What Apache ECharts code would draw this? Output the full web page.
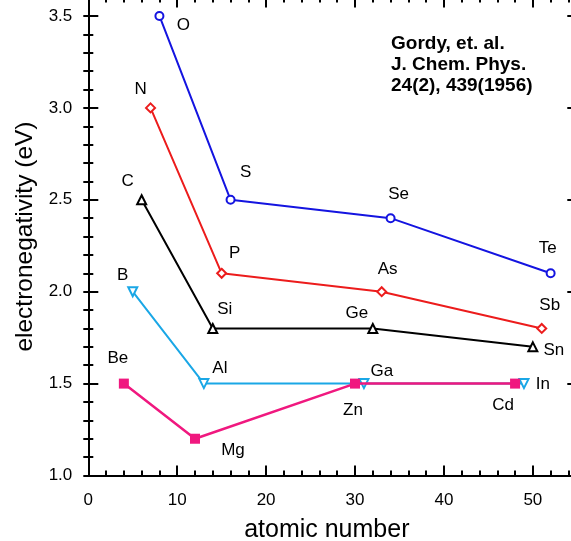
<!DOCTYPE html>
<html>
<head>
<meta charset="utf-8">
<script src="https://cdn.jsdelivr.net/npm/echarts@6/dist/echarts.min.js"></script>
<style>
html,body{margin:0;padding:0;background:#fff;}
#chart{width:571px;height:541px;}
</style>
</head>
<body>
<div id="chart"></div>
<script>
// ---- data ----
const elemsO  = ['O', 'S', 'Se', 'Te'];
const zO      = [8, 16, 34, 52];
const enO     = [3.5, 2.5, 2.4, 2.1];

const elemsN  = ['N', 'P', 'As', 'Sb'];
const zN      = [7, 15, 33, 51];
const enN     = [3.0, 2.1, 2.0, 1.8];

const elemsC  = ['C', 'Si', 'Ge', 'Sn'];
const zC      = [6, 14, 32, 50];
const enC     = [2.5, 1.8, 1.8, 1.7];

const elemsB  = ['B', 'Al', 'Ga', 'In'];
const zB      = [5, 13, 31, 49];
const enB     = [2.0, 1.5, 1.5, 1.5];

const elemsBe = ['Be', 'Mg', 'Zn', 'Cd'];
const zBe     = [4, 12, 30, 48];
const enBe    = [1.5, 1.2, 1.5, 1.5];

const xTickLabels = ['0', '10', '20', '30', '40', '50'];
const yTickLabels = ['1.0', '1.5', '2.0', '2.5', '3.0', '3.5'];
const noteLines = ['Gordy, et. al.', 'J. Chem. Phys.', '24(2), 439(1956)'];

// ---- styling (label placement relative to marker, px) ----
const labelOffsets = {
  O: [24, 9], S: [15, -27], Se: [8, -24], Te: [-3, -25],
  N: [-10, -19], P: [13, -20], As: [6, -22], Sb: [8, -23],
  C: [-14, -18], Si: [12, -19], Ge: [-16, -15], Sn: [21, 3],
  B: [-10, -16], Al: [16, -15], Ga: [18, -12], In: [19, 1],
  Be: [-6, -25], Mg: [38, 12], Zn: [-2, 27], Cd: [-12, 22]
};
const FONT = '"Liberation Sans", Arial, sans-serif';

function makeData(elems, zs, ens) {
  return elems.map((e, i) => ({
    value: [zs[i], ens[i]],
    name: e,
    label: {
      show: true,
      position: 'inside',
      offset: labelOffsets[e],
      formatter: e,
      color: '#000',
      fontSize: 17,
      fontFamily: FONT,
      align: 'center',
      verticalAlign: 'middle'
    }
  }));
}

function mkSeries(elems, zs, ens, color, symbol, size, rotate, lineWidth, z) {
  return {
    type: 'line',
    xAxisIndex: 0,
    yAxisIndex: 0,
    data: makeData(elems, zs, ens),
    symbol: symbol,
    symbolSize: size,
    symbolRotate: rotate,
    showAllSymbol: true,
    lineStyle: { color: color, width: lineWidth },
    itemStyle: { color: color, borderWidth: 1.5 },
    emphasis: { disabled: true },
    animation: false,
    z: z
  };
}

const axisLineStyle = { show: true, onZero: false, lineStyle: { color: '#000', width: 2 } };
const xMin = 0, xMax = 55, yMin = 1.0, yMax = 3.6;

function xMajor(pos, gridIndex, labels) {
  return {
    type: 'value', gridIndex: gridIndex, position: pos, min: xMin, max: xMax, interval: 10,
    axisLine: axisLineStyle,
    axisTick: { show: true, inside: true, length: 10, lineStyle: { color: '#000', width: 2 } },
    axisLabel: {
      show: labels, margin: 16, fontSize: 17, color: '#000', fontFamily: FONT,
      showMaxLabel: false,
      formatter: v => { const i = xTickLabels.indexOf(String(v)); return i >= 0 ? xTickLabels[i] : ''; }
    },
    splitLine: { show: false },
    name: labels ? 'atomic number' : '',
    nameLocation: 'middle', nameGap: 42,
    nameTextStyle: { fontSize: 25, color: '#000', fontFamily: FONT, padding: [0, 12, 0, 0] }
  };
}
function xMinor(pos, gridIndex) {
  return {
    type: 'value', gridIndex: gridIndex, position: pos, min: xMin, max: xMax, interval: 2,
    axisLine: { show: false },
    axisTick: { show: true, inside: true, length: 5, lineStyle: { color: '#000', width: 2 } },
    axisLabel: { show: false }, splitLine: { show: false }
  };
}
function yMajor(pos, gridIndex, labels) {
  return {
    type: 'value', gridIndex: gridIndex, position: pos, min: yMin, max: yMax, interval: 0.5,
    axisLine: axisLineStyle,
    axisTick: { show: true, inside: true, length: 10, lineStyle: { color: '#000', width: 2 } },
    axisLabel: {
      show: labels, margin: 16, fontSize: 17, color: '#000', fontFamily: FONT,
      showMaxLabel: false,
      formatter: v => { const s = v.toFixed(1); return yTickLabels.indexOf(s) >= 0 ? s : ''; }
    },
    splitLine: { show: false },
    name: labels ? 'electronegativity (eV)' : '',
    nameLocation: 'middle', nameGap: 51, nameRotate: 90,
    nameTextStyle: { fontSize: 24.5, color: '#000', fontFamily: FONT }
  };
}
function yMinor(pos, gridIndex) {
  return {
    type: 'value', gridIndex: gridIndex, position: pos, min: yMin, max: yMax, interval: 0.1,
    axisLine: { show: false },
    axisTick: { show: true, inside: true, length: 5, lineStyle: { color: '#000', width: 2 } },
    axisLabel: { show: false }, splitLine: { show: false }
  };
}

const gridBox = { left: 88.3, right: -6.3, top: -2.4, bottom: 65.5, containLabel: false, outerBoundsMode: 'none' };

const chart = echarts.init(document.getElementById('chart'), null, { renderer: 'canvas' });
chart.setOption({
  backgroundColor: '#fff',
  animation: false,
  grid: [Object.assign({}, gridBox), Object.assign({}, gridBox)],
  xAxis: [xMajor('bottom', 0, true), xMajor('top', 0, false), xMinor('bottom', 1), xMinor('top', 1)],
  yAxis: [yMajor('left', 0, true), yMajor('right', 0, false), yMinor('left', 1), yMinor('right', 1)],
  graphic: [{
    type: 'text', left: 391, top: 33,
    style: {
      text: noteLines.join('\n'),
      font: 'bold 19px ' + FONT,
      lineHeight: 21,
      fill: '#000'
    }
  }],
  series: [
    mkSeries(elemsB, zB, enB, '#1aa7e6', 'emptyTriangle', 9, 180, 2, 2),
    mkSeries(elemsBe, zBe, enBe, '#f0187f', 'rect', 10, 0, 2.5, 3),
    mkSeries(elemsC, zC, enC, '#000000', 'emptyTriangle', 9, 0, 2, 2),
    mkSeries(elemsN, zN, enN, '#ec1c1c', 'emptyDiamond', 9, 0, 2, 2),
    mkSeries(elemsO, zO, enO, '#1414e0', 'emptyCircle', 8, 0, 2, 2)
  ]
});
</script>
</body>
</html>
